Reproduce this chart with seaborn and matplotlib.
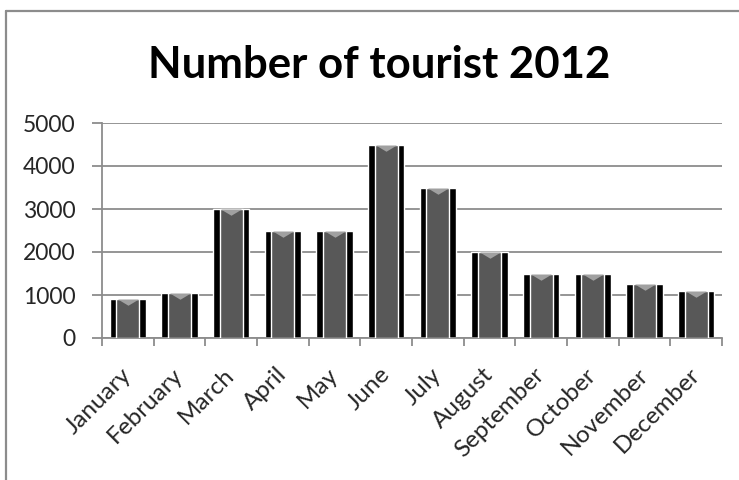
import numpy as np
import pandas as pd
import matplotlib
matplotlib.use("Agg")
import matplotlib.pyplot as plt
from matplotlib.lines import Line2D
import seaborn as sns

months = ["January", "February", "March", "April", "May", "June", "July",
          "August", "September", "October", "November", "December"]
tourists = [900, 1050, 3000, 2500, 2500, 4500, 3500, 2000, 1500, 1500, 1250, 1100]
yticks = [0, 1000, 2000, 3000, 4000, 5000]
title = "Number of tourist 2012"

df = pd.DataFrame({"month": months, "tourists": tourists})

sns.set_theme(style="white")
plt.rcParams["font.family"] = ["Lato", "DejaVu Sans"]

fig = plt.figure(figsize=(7.39, 4.80), dpi=100)
ax = fig.add_axes([102 / 739, 1 - 338 / 480, (722 - 102) / 739, (338 - 123) / 480])

ax.set_axisbelow(True)
ax.yaxis.grid(True, color="#8c8c8c", linewidth=1.3)

sns.barplot(data=df, x="month", y="tourists", color="black", width=0.70,
            saturation=1, ax=ax, zorder=2)
sns.barplot(data=df, x="month", y="tourists", color="#585858", width=0.44,
            saturation=1, ax=ax, zorder=3)
tri = [(-1, 0), (1, 0), (0, -0.6)]
sns.pointplot(data=df, x="month", y="tourists", color="#a0a0a0", marker=tri,
              linestyle="none", markersize=15, markeredgewidth=0, ax=ax, zorder=4)

ax.set_ylim(0, 5000)
ax.set_xlim(-0.5, len(months) - 0.5)
ax.set_yticks(yticks)
ax.set_yticklabels([str(v) for v in yticks], fontsize=16.5)
ax.set_xticks(range(len(months)))
ax.set_xticklabels(months, rotation=45, ha="right", va="center",
                   rotation_mode="anchor", fontsize=17.5)
ax.set_xticks(np.arange(-0.5, len(months), 1), minor=True)
ax.tick_params(axis="x", which="major", length=0, pad=24)
ax.tick_params(axis="x", which="minor", length=6, color="#8c8c8c", width=1.3,
               direction="out", bottom=True)
ax.tick_params(axis="y", length=7, color="#8c8c8c", width=1.3, pad=12,
               direction="out", left=True)
ax.set_xlabel("")
ax.set_ylabel("")
for s in ["top", "right"]:
    ax.spines[s].set_visible(False)
for s in ["left", "bottom"]:
    ax.spines[s].set_visible(True)
    ax.spines[s].set_color("#8c8c8c")
    ax.spines[s].set_linewidth(1.3)

fig.text(379 / 739, 1 - 65 / 480, title, ha="center", va="center",
         fontsize=31.5, fontweight="bold", color="black")

# outer frame (left and top edges)
fig.add_artist(Line2D([6 / 739, 6 / 739], [0, 1 - 11 / 480],
                      transform=fig.transFigure, color="#8c8c8c", linewidth=1.6))
fig.add_artist(Line2D([6 / 739, 1], [1 - 11 / 480, 1 - 11 / 480],
                      transform=fig.transFigure, color="#8c8c8c", linewidth=1.6))

fig.savefig("out.png", dpi=100)
